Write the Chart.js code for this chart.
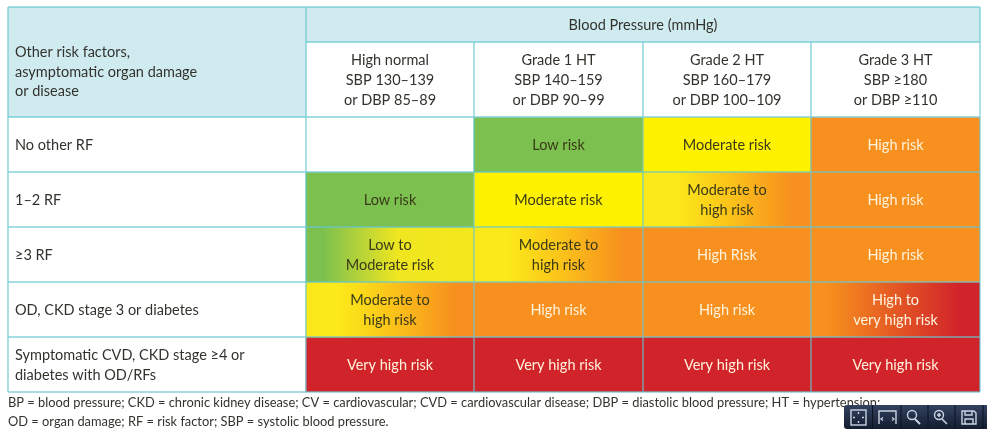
<!DOCTYPE html>
<html>
<head>
<meta charset="utf-8">
<title>Blood pressure risk table</title>
<script src="https://cdn.jsdelivr.net/npm/chart.js@4"></script>
<style>
    html, body { margin: 0; padding: 0; background: #fff; overflow: hidden; }
    #wrap { position: relative; width: 987px; height: 432px; }
    #toolbar { position: absolute; left: 844px; top: 405px; width: 143px; height: 24px; border-radius: 3px 0 0 3px;
               background: linear-gradient(#33425f, #141d30); }
    #toolbar svg { display: block; }
</style>
</head>
<body>
<div id="wrap">
    <canvas id="riskChart" width="987" height="432"></canvas>
    <div id="toolbar">
        <svg width="143" height="24" fill="none" stroke="#c9d3e2" stroke-width="1.4">
            <rect x="7" y="5" width="15" height="15"/><path d="M14.5 7v2M14.5 16v2M9 12.5h2M18 12.5h2"/>
            <path d="M35 19v-13h17v13M39 12.5l-2 1.5 2 1.5M48 12.5l2 1.5-2 1.5"/>
            <circle cx="68" cy="10" r="4.5"/><path d="M71 14l5 5" stroke-width="2"/>
            <circle cx="95" cy="10" r="4.5"/><path d="M98 14l5 5M93 10h4M95 8v4" stroke-width="1.6"/>
            <path d="M118 6h12l2 2v11h-14zM121 6v4h7v-4M121 19v-5h8v5"/>
            <path d="M28.500 0v24M57 0v24M84 0v24M111 0v24M139 0v24" stroke="#0c1322" stroke-width="1"/>
        </svg>
    </div>
</div>
<script>
    // Table content
    const cornerLabel = ['Other risk factors,', 'asymptomatic organ damage', 'or disease'];
    const spanLabel = 'Blood Pressure (mmHg)';
    const columnHeads = [
        ['High normal', 'SBP 130–139', 'or DBP 85–89'],
        ['Grade 1 HT', 'SBP 140–159', 'or DBP 90–99'],
        ['Grade 2 HT', 'SBP 160–179', 'or DBP 100–109'],
        ['Grade 3 HT', 'SBP ≥180', 'or DBP ≥110']
    ];
    const rowHeads = [
        ['No other RF'],
        ['1–2 RF'],
        ['≥3 RF'],
        ['OD, CKD stage 3 or diabetes'],
        ['Symptomatic CVD, CKD stage ≥4 or', 'diabetes with OD/RFs']
    ];
    const cellRisk = [
        ['none', 'low', 'moderate', 'high'],
        ['low', 'moderate', 'moderateHigh', 'high'],
        ['lowModerate', 'moderateHigh', 'high', 'high'],
        ['moderateHigh', 'high', 'high', 'highVeryHigh'],
        ['veryHigh', 'veryHigh', 'veryHigh', 'veryHigh']
    ];
    const cellText = [
        [[], ['Low risk'], ['Moderate risk'], ['High risk']],
        [['Low risk'], ['Moderate risk'], ['Moderate to', 'high risk'], ['High risk']],
        [['Low to', 'Moderate risk'], ['Moderate to', 'high risk'], ['High Risk'], ['High risk']],
        [['Moderate to', 'high risk'], ['High risk'], ['High risk'], ['High to', 'very high risk']],
        [['Very high risk'], ['Very high risk'], ['Very high risk'], ['Very high risk']]
    ];
    const footnotes = [
        'BP = blood pressure; CKD = chronic kidney disease; CV = cardiovascular; CVD = cardiovascular disease; DBP = diastolic blood pressure; HT = hypertension;',
        'OD = organ damage; RF = risk factor; SBP = systolic blood pressure.'
    ];

    // Table layout, in scale units (one unit is one pixel here)
    const columnEdges = [0, 298, 466, 635, 803, 972];
    const rowEdges = [0, 35, 110, 165, 220, 275, 330, 385];

    const HEAD_FILL = '#d0ebf0';
    const LINE_COLOR = 'rgba(104, 198, 210, 0.8)';
    const FONT = '"Lato"';
    const GREEN = '#7cc04f', YELLOW = '#fff200', ORANGE = '#f7901e', RED = '#d1232a';
    const riskFill = {
        none: '#ffffff', low: GREEN, moderate: YELLOW, high: ORANGE, veryHigh: RED,
        lowModerate: [[0.1, GREEN], [0.55, '#f0e620'], [1, '#f4e81c']],
        moderateHigh: [[0.2, '#fbe91a'], [0.5, '#fbc51a'], [0.88, ORANGE]],
        highVeryHigh: [[0.1, ORANGE], [0.88, RED]]
    };

    const centre = (i, j) => (rowEdges[i] + rowEdges[j]) / 2;
    const colSpan = c => [columnEdges[c], columnEdges[c + 1]];

    function cellFill(context) {
        const fill = riskFill[context.raw.risk] || context.raw.risk;
        if (!Array.isArray(fill)) return fill;
        const xs = context.chart.scales.x;
        const g = context.chart.ctx.createLinearGradient(
            xs.getPixelForValue(context.raw.x[0]), 0, xs.getPixelForValue(context.raw.x[1]), 0);
        fill.forEach(s => g.addColorStop(s[0], s[1]));
        return g;
    }

    const datasets = [
        { label: 'corner', barThickness: rowEdges[2] - rowEdges[0],
          data: [{ x: colSpan(0), y: centre(0, 2), risk: HEAD_FILL }] },
        { label: 'span', barThickness: rowEdges[1] - rowEdges[0],
          data: [{ x: [columnEdges[1], columnEdges[5]], y: centre(0, 1), risk: HEAD_FILL }] },
        { label: 'heads', barThickness: rowEdges[2] - rowEdges[1],
          data: columnHeads.map((h, c) => ({ x: colSpan(c + 1), y: centre(1, 2), risk: 'none' })) }
    ];
    cellRisk.forEach((row, r) => {
        datasets.push({
            label: rowHeads[r].join(' '),
            barThickness: rowEdges[r + 3] - rowEdges[r + 2],
            data: [{ x: colSpan(0), y: centre(r + 2, r + 3), risk: 'none' }].concat(
                row.map((risk, c) => ({ x: colSpan(c + 1), y: centre(r + 2, r + 3), risk: risk })))
        });
    });

    function drawLines(ctx, x, y, lines, align, color, size, step) {
        ctx.fillStyle = color;
        ctx.textAlign = align;
        ctx.textBaseline = 'middle';
        ctx.font = size + 'px ' + FONT;
        const top = y - (lines.length - 1) * step / 2;
        lines.forEach((t, i) => ctx.fillText(t, x, top + i * step));
    }

    const tablePlugin = {
        id: 'tablePlugin',
        afterDatasetsDraw(chart) {
            const ctx = chart.ctx, xs = chart.scales.x, ys = chart.scales.y;
            const px = v => xs.getPixelForValue(v), py = v => ys.getPixelForValue(v);
            const DARK = '#33332e', PALE = '#fff3dc';
            ctx.save();

            // grid lines
            ctx.strokeStyle = LINE_COLOR;
            ctx.lineWidth = 1.4;
            ctx.beginPath();
            rowEdges.forEach((e, i) => {
                ctx.moveTo(px(i === 1 ? columnEdges[1] : columnEdges[0]), py(e));
                ctx.lineTo(px(columnEdges[5]), py(e));
            });
            columnEdges.forEach((e, i) => {
                const from = i === 0 || i === 1 || i === 5 ? rowEdges[0] : rowEdges[1];
                ctx.moveTo(px(e), py(from));
                ctx.lineTo(px(e), py(rowEdges[7]));
            });
            ctx.stroke();

            // header text
            const leftX = px(columnEdges[0]) + 7;
            drawLines(ctx, leftX, py(centre(0, 2)) + 10, cornerLabel, 'left', DARK, 14.5, 19.5);
            drawLines(ctx, (px(columnEdges[1]) + px(columnEdges[5])) / 2, py(centre(0, 1)) + 1, [spanLabel], 'center', DARK, 14.5, 20);
            columnHeads.forEach((h, c) => {
                drawLines(ctx, (px(columnEdges[c + 1]) + px(columnEdges[c + 2])) / 2, py(centre(1, 2)) + 1, h, 'center', DARK, 14.5, 20);
            });

            // body text
            rowHeads.forEach((h, r) => {
                drawLines(ctx, leftX, py(centre(r + 2, r + 3)) + 1, h, 'left', DARK, 14.5, 20);
                cellRisk[r].forEach((risk, c) => {
                    const pale = risk === 'high' || risk === 'veryHigh' || risk === 'highVeryHigh';
                    drawLines(ctx, (px(columnEdges[c + 1]) + px(columnEdges[c + 2])) / 2, py(centre(r + 2, r + 3)) + 1,
                        cellText[r][c], 'center', pale ? PALE : '#3a3a18', 14.5, 20);
                });
            });

            // footnotes
            footnotes.forEach((t, i) => {
                drawLines(ctx, px(columnEdges[0]), py(rowEdges[7]) + 10.5 + i * 19, [t], 'left', DARK, 12.85, 18);
            });
            ctx.restore();
        }
    };

    new Chart(document.getElementById('riskChart'), {
        type: 'bar',
        data: { datasets: datasets },
        plugins: [tablePlugin],
        options: {
            indexAxis: 'y',
            responsive: false,
            animation: false,
            grouped: false,
            backgroundColor: cellFill,
            borderWidth: 0,
            layout: { padding: { left: 8, right: 7, top: 7, bottom: 40 } },
            scales: {
                x: { type: 'linear', min: columnEdges[0], max: columnEdges[5], display: false },
                y: { type: 'linear', offset: false, min: rowEdges[0], max: rowEdges[7], reverse: true, display: false }
            },
            plugins: { legend: { display: false }, tooltip: { enabled: false } }
        }
    });
</script>
</body>
</html>
